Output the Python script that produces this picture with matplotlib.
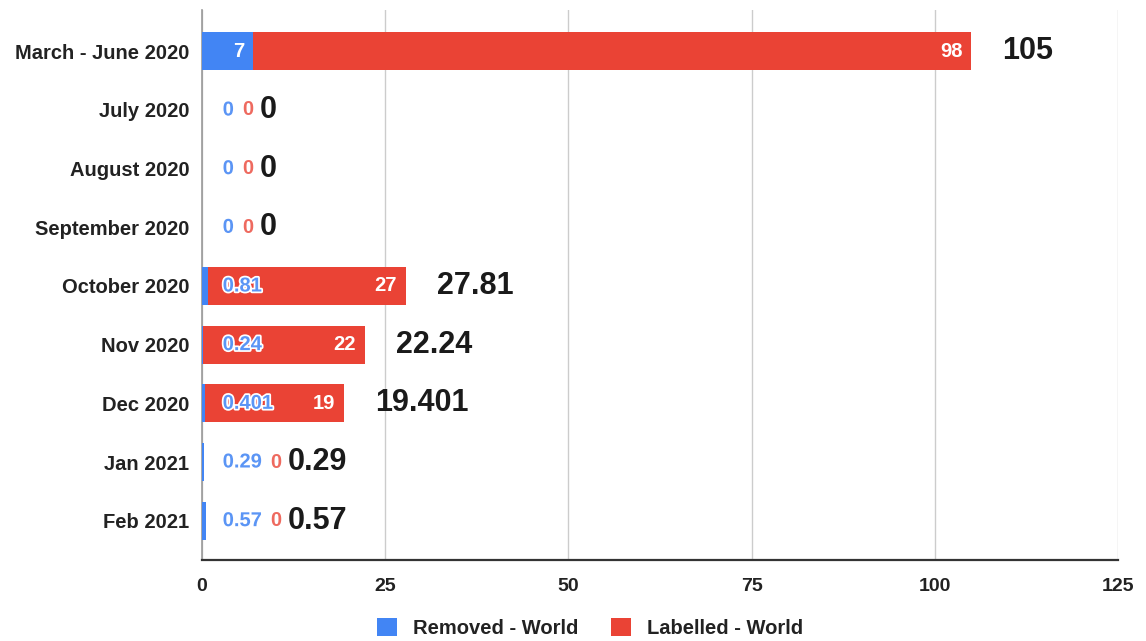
import matplotlib
matplotlib.use("Agg")
import matplotlib.pyplot as plt
import matplotlib.patheffects as pe

plt.rcParams['font.family'] = ['Liberation Sans', 'DejaVu Sans']

categories = ["March - June 2020", "July 2020", "August 2020", "September 2020",
              "October 2020", "Nov 2020", "Dec 2020", "Jan 2021", "Feb 2021"]
removed = [7, 0, 0, 0, 0.81, 0.24, 0.401, 0.29, 0.57]
labelled = [98, 0, 0, 0, 27, 22, 19, 0, 0]
xticks = [0, 25, 50, 75, 100, 125]

BLUE = "#4285F4"
RED = "#EA4335"
BLUE_TXT = "#5B95F5"
RED_TXT = "#EE6A5F"

fig = plt.figure(figsize=(11.46, 6.41), dpi=100)
ax = fig.add_axes([0.176, 0.1264, 0.7996, 0.8576])

y = list(range(len(categories)))
h = 0.65
ax.barh(y, removed, height=h, color=BLUE, label="Removed - World", zorder=3)
ax.barh(y, labelled, left=removed, height=h, color=RED, label="Labelled - World", zorder=3)

ax.set_xlim(0, 125)
ax.set_ylim(len(categories) - 1 + 0.67, -0.7)
ax.set_xticks(xticks)
ax.set_xticklabels([str(t) for t in xticks], fontsize=14, fontweight='bold', color='#222222')
ax.set_yticks(y)
ax.set_yticklabels(categories, fontsize=14.5, fontweight='bold', color='#222222')
ax.tick_params(axis='both', length=0)
ax.tick_params(axis='y', pad=9)
ax.tick_params(axis='x', pad=13)
ax.grid(axis='x', color='#cccccc', linewidth=1, zorder=0)
for s in ['top', 'right']:
    ax.spines[s].set_visible(False)
ax.spines['left'].set_color('#999999')
ax.spines['left'].set_linewidth(1.2)
ax.spines['bottom'].set_color('#333333')
ax.spines['bottom'].set_linewidth(1.6)

outline = [pe.withStroke(linewidth=2.5, foreground='white')]
small = 14.5
big = 22

for i in y:
    b = removed[i]
    r = labelled[i]
    tot = b + r
    # blue label
    if b >= 5:
        bt = ax.annotate(f"{b:g}", xy=(b, i), xytext=(-9, 0), textcoords='offset pixels',
                         ha='right', va='center', fontsize=small, fontweight='bold',
                         color='white', zorder=5)
    else:
        bt = ax.annotate(f"{b:g}", xy=(0, i), xytext=(21, 0), textcoords='offset pixels',
                         ha='left', va='center', fontsize=small, fontweight='bold',
                         color=BLUE_TXT, path_effects=outline, zorder=5)
    # red label
    if r >= 5:
        rt = ax.annotate(f"{r:g}", xy=(tot, i), xytext=(-9, 0), textcoords='offset pixels',
                         ha='right', va='center', fontsize=small, fontweight='bold',
                         color='white', zorder=5)
        ax.annotate(f"{tot:g}", xy=(tot, i), xytext=(31, 0), textcoords='offset pixels',
                    ha='left', va='center', fontsize=big, fontweight='bold',
                    color='#1a1a1a', zorder=5)
    else:
        rt = ax.annotate(f"{r:g}", xy=(1, 0.5), xycoords=bt, xytext=(8, 0),
                         textcoords='offset pixels', ha='left', va='center',
                         fontsize=small, fontweight='bold', color=RED_TXT, zorder=5)
        ax.annotate(f"{tot:g}", xy=(1, 0.5), xycoords=rt, xytext=(7, 0),
                    textcoords='offset pixels', ha='left', va='center',
                    fontsize=big, fontweight='bold', color='#1a1a1a', zorder=5)

fig.legend(loc='center', bbox_to_anchor=(0.515, 0.02), ncol=2, frameon=False,
           prop={'size': 14.5, 'weight': 'bold'}, handlelength=1.0, handleheight=1.0,
           columnspacing=1.6, handletextpad=0.8, labelcolor='#222222')

fig.savefig("out.png", dpi=100)
